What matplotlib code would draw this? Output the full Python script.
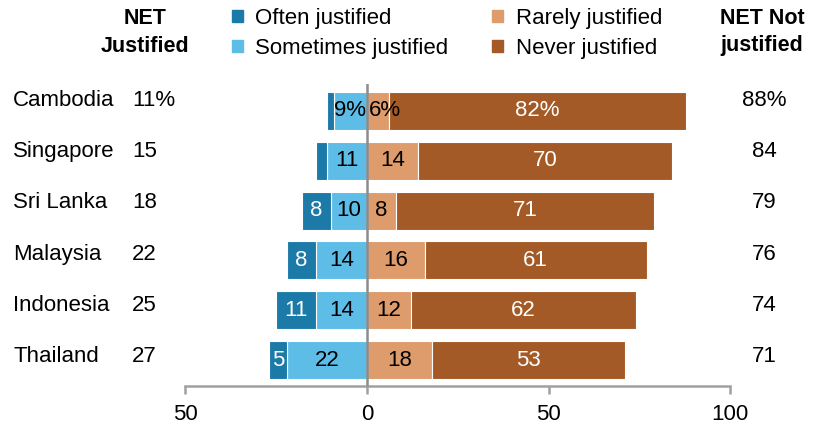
import matplotlib.pyplot as plt
import numpy as np
from matplotlib.patches import Patch

countries = ["Cambodia", "Singapore", "Sri Lanka", "Malaysia", "Indonesia", "Thailand"]
often = [2, 3, 8, 8, 11, 5]
sometimes = [9, 11, 10, 14, 14, 22]
rarely = [6, 14, 8, 16, 12, 18]
never = [82, 70, 71, 61, 62, 53]
net_justified = ["11%", "15", "18", "22", "25", "27"]
net_not = ["88%", "84", "79", "76", "74", "71"]
ticks = [-50, 0, 50, 100]
tick_labels = ["50", "0", "50", "100"]

plt.rcParams["font.family"] = ["Liberation Sans", "DejaVu Sans"]

c_often = "#1b7aa8"
c_some = "#5dbde6"
c_rare = "#de9b6c"
c_never = "#a45a26"

W, H = 815, 426
fig = plt.figure(figsize=(W / 100, H / 100), dpi=100)
# axes spans full width; bottom spine at ~386px, top at ~84px
ax = fig.add_axes([0, 40 / H, 1, 302 / H])

row_px = 49.8
y = np.arange(len(countries))
often = np.array(often)
sometimes = np.array(sometimes)
rarely = np.array(rarely)
never = np.array(never)

h = 38 / row_px
kw = dict(height=h, edgecolor="white", linewidth=0.8)
ax.barh(y, -sometimes, left=0, color=c_some, **kw)
ax.barh(y, -often, left=-sometimes, color=c_often, **kw)
ax.barh(y, rarely, left=0, color=c_rare, **kw)
ax.barh(y, never, left=rarely, color=c_never, **kw)

fs = 16
tr = ax.get_yaxis_transform()
for i in range(len(countries)):
    pct = "%" if i == 0 else ""
    if often[i] >= 4:
        ax.text(-sometimes[i] - often[i] / 2, y[i], str(often[i]) + pct,
                ha="center", va="center", color="white", fontsize=fs)
    if i == 0:
        # narrow segments: hug the zero line
        ax.text(-0.4, y[i], str(sometimes[i]) + pct,
                ha="right", va="center", color="black", fontsize=fs)
        ax.text(0.6, y[i], str(rarely[i]) + pct,
                ha="left", va="center", color="black", fontsize=fs)
    else:
        ax.text(-sometimes[i] / 2, y[i], str(sometimes[i]) + pct,
                ha="center", va="center", color="black", fontsize=fs)
        ax.text(rarely[i] / 2, y[i], str(rarely[i]) + pct,
                ha="center", va="center", color="black", fontsize=fs)
    ax.text(rarely[i] + never[i] / 2, y[i], str(never[i]) + pct,
            ha="center", va="center", color="white", fontsize=fs)
    # side labels sit slightly above the bar centres
    ly = y[i] + (-11 + 1.6 * i) / row_px
    ax.text(13 / W, ly, countries[i], ha="left", va="center", fontsize=fs, transform=tr)
    ax.text(132 / W, ly, net_justified[i], ha="left", va="center", fontsize=fs, transform=tr)
    ax.text(764 / W, ly, net_not[i], ha="center", va="center", fontsize=fs, transform=tr)

ax.axvline(0, color="#8c8c8c", linewidth=1.8, zorder=3)

upx = 50 / 181.5
ax.set_xlim(-50 - 185.5 * upx, -50 + (W - 185.5) * upx)
ax.set_ylim(5 + 26 / row_px, -27 / row_px)

for s in ["top", "left", "right"]:
    ax.spines[s].set_visible(False)
ax.spines["bottom"].set_bounds(-50, 100)
ax.spines["bottom"].set_color("#a0a0a0")
ax.spines["bottom"].set_linewidth(1.8)
ax.set_yticks([])
ax.set_xticks(ticks)
ax.set_xticklabels(tick_labels, fontsize=fs)
ax.tick_params(axis="x", length=6, width=1.8, color="#a0a0a0", pad=7)

# headers
hdr = dict(ha="center", va="center", fontsize=15.5, fontweight="bold")
fig.text(145 / W, 1 - 18 / H, "NET", **hdr)
fig.text(145 / W, 1 - 46 / H, "Justified", **hdr)
fig.text(762 / W, 1 - 18 / H, "NET Not", **hdr)
fig.text(762 / W, 1 - 46 / H, "justified", **hdr)

handles = [Patch(color=c_often, label="Often justified"),
           Patch(color=c_some, label="Sometimes justified"),
           Patch(color=c_rare, label="Rarely justified"),
           Patch(color=c_never, label="Never justified")]
fig.legend(handles=handles, ncol=2, loc="upper left", bbox_to_anchor=(232 / W, 1 - 8 / H),
           frameon=False, fontsize=fs, handlelength=0.5, handleheight=0.5,
           handletextpad=0.55, columnspacing=1.97, labelspacing=0.4,
           borderaxespad=0, borderpad=0)

fig.savefig("out.png", dpi=100)
